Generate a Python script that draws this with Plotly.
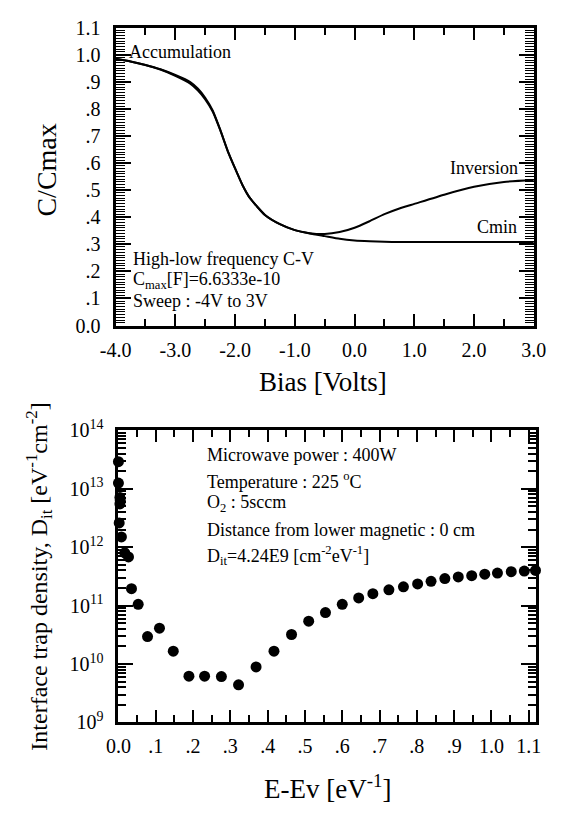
import plotly.graph_objects as go

# ---------------- data: top panel (C-V) ----------------
bias_v = [-4.0, -3.75, -3.5, -3.25, -3.0, -2.75, -2.625, -2.5, -2.375, -2.25, -2.125, -2.0, -1.875,
          -1.75, -1.5, -1.25, -1.0, -0.75, -0.5, -0.25, 0.0, 0.25, 0.5, 0.75, 1.0, 1.5, 2.0, 2.5, 3.0]
c_high_freq = [0.985, 0.975, 0.962, 0.945, 0.922, 0.893, 0.868, 0.835, 0.790, 0.722, 0.645, 0.580, 0.518,
               0.470, 0.408, 0.374, 0.352, 0.340, 0.330, 0.320, 0.314, 0.311, 0.309, 0.308, 0.308,
               0.308, 0.308, 0.308, 0.308]
c_low_freq = [0.985, 0.975, 0.962, 0.946, 0.925, 0.899, 0.875, 0.841, 0.794, 0.724, 0.646, 0.580, 0.518,
              0.470, 0.408, 0.374, 0.352, 0.341, 0.338, 0.345, 0.361, 0.385, 0.411, 0.432, 0.449,
              0.483, 0.512, 0.530, 0.537]
cv_xtick_vals = [-4, -3, -2, -1, 0, 1, 2, 3]
cv_xtick_text = ["-4.0", "-3.0", "-2.0", "-1.0", "0.0", "1.0", "2.0", "3.0"]
cv_ytick_vals = [0.0, 0.1, 0.2, 0.3, 0.4, 0.5, 0.6, 0.7, 0.8, 0.9, 1.0, 1.1]
cv_ytick_text = ["0.0", ".1", ".2", ".3", ".4", ".5", ".6", ".7", ".8", ".9", "1.0", "1.1"]

# ---------------- data: bottom panel (Dit) ----------------
e_minus_ev = [0.000, 0.000, 0.004, 0.005, 0.004, 0.002, 0.008, 0.017, 0.027, 0.035, 0.053,
              0.078, 0.110, 0.147, 0.189, 0.231, 0.276, 0.322, 0.369, 0.417, 0.464, 0.510,
              0.555, 0.600, 0.644, 0.682, 0.725, 0.764, 0.802, 0.838, 0.875, 0.911, 0.947,
              0.982, 1.016, 1.053, 1.088, 1.118]
dit_values = [2.9e13, 1.25e13, 7.1e12, 6.3e12, 5.5e12, 2.6e12, 1.5e12, 8.0e11, 6.8e11, 1.95e11, 1.05e11,
              2.95e10, 4.1e10, 1.66e10, 6.2e9, 6.2e9, 6.1e9, 4.4e9, 8.9e9, 1.66e10, 3.2e10, 5.4e10,
              7.6e10, 1.05e11, 1.35e11, 1.6e11, 1.86e11, 2.1e11, 2.35e11, 2.6e11, 2.9e11, 3.1e11, 3.25e11,
              3.45e11, 3.6e11, 3.8e11, 3.9e11, 4.0e11]
dit_xtick_vals = [0.0, 0.1, 0.2, 0.3, 0.4, 0.5, 0.6, 0.7, 0.8, 0.9, 1.0, 1.1]
dit_xtick_text = ["0.0", ".1", ".2", ".3", ".4", ".5", ".6", ".7", ".8", ".9", "1.0", "1.1"]
dit_ytick_vals = [1e9, 1e10, 1e11, 1e12, 1e13, 1e14]
dit_ytick_text = ["10<sup>9</sup>", "10<sup>10</sup>", "10<sup>11</sup>", "10<sup>12</sup>",
                  "10<sup>13</sup>", "10<sup>14</sup>"]
dit_minor_vals = [m * 10 ** d for d in range(9, 14) for m in range(2, 10)]

W, H = 562, 814
FONT = "Liberation Serif"


def px(x):
    return x / W


def py(y):
    return 1 - y / H


fig = go.Figure()
fig.add_trace(go.Scatter(x=bias_v, y=c_high_freq, mode="lines",
                         line=dict(color="black", width=2, shape="spline", smoothing=0.5),
                         xaxis="x", yaxis="y", showlegend=False))
fig.add_trace(go.Scatter(x=bias_v, y=c_low_freq, mode="lines",
                         line=dict(color="black", width=2, shape="spline", smoothing=0.5),
                         xaxis="x", yaxis="y", showlegend=False))
fig.add_trace(go.Scatter(x=e_minus_ev, y=dit_values, mode="markers", marker=dict(color="black", size=11),
                         xaxis="x2", yaxis="y2", showlegend=False, cliponaxis=False))

axis_common = dict(showgrid=False, zeroline=False, showline=True, linecolor="black", linewidth=3,
                   mirror="allticks", ticks="inside", tickcolor="black", tickwidth=1.5,
                   tickfont=dict(family=FONT, size=20, color="black"))

fig.update_layout(
    width=W, height=H, autosize=False,
    margin=dict(l=0, r=0, t=0, b=0),
    paper_bgcolor="white", plot_bgcolor="white",
    font=dict(family=FONT, color="black"),
    xaxis=dict(domain=[px(105), px(546)], anchor="y", range=[-4, 3], tickmode="array",
               tickvals=cv_xtick_vals, ticktext=cv_xtick_text, ticklen=12, ticklabelstandoff=4,
               minor=dict(dtick=0.5, ticklen=7, ticks="inside", tickcolor="black", tickwidth=1.5),
               **axis_common),
    yaxis=dict(domain=[py(322), py(15)], anchor="x", range=[0, 1.1], tickmode="array",
               tickvals=cv_ytick_vals, ticktext=cv_ytick_text, ticklen=15, ticklabelstandoff=8,
               minor=dict(dtick=0.01, ticklen=9, ticks="inside", tickcolor="black", tickwidth=1.2),
               **axis_common),
    xaxis2=dict(domain=[px(108), px(548)], anchor="y2", range=[0, 1.1186], tickmode="array",
                tickvals=dit_xtick_vals, ticktext=dit_xtick_text, ticklen=12, ticklabelstandoff=4,
                minor=dict(dtick=0.05, ticklen=7, ticks="inside", tickcolor="black", tickwidth=1.5),
                **axis_common),
    yaxis2=dict(domain=[py(731), py(430)], anchor="x2", type="log", range=[9, 14], tickmode="array",
                tickvals=dit_ytick_vals, ticktext=dit_ytick_text, ticklen=15, ticklabelstandoff=8,
                minor=dict(tickmode="array", tickvals=dit_minor_vals, ticklen=8, ticks="inside",
                           tickcolor="black", tickwidth=1.5),
                **axis_common),
)

ann = []


def add(text, x, y, xa="left", ya="middle", size=18, angle=0):
    ann.append(dict(text=text, x=px(x), y=py(y), xref="paper", yref="paper", xanchor=xa, yanchor=ya,
                    showarrow=False, textangle=angle, font=dict(family=FONT, size=size, color="black")))


# top panel annotations
add("Accumulation", 117, 40)
add("Inversion", 531, 160, xa="right")
add("Cmin", 530, 220, xa="right")
add("High-low frequency C-V", 121, 253)
add("C<sub>max</sub>[F]=6.6333e-10", 121, 276)
add("Sweep : -4V to 3V", 121, 297)
add("C/Cmax", 32, 162, xa="center", size=28, angle=-90)
add("Bias [Volts]", 324, 380, xa="center", size=27)

# bottom panel annotations
add("Microwave power : 400W", 199, 455)
add("Temperature : 225 <sup>o</sup>C", 199, 482)
add("O<sub>2</sub> : 5sccm", 199, 505)
add("Distance from lower magnetic : 0 cm", 199, 533)
add("D<sub>it</sub>=4.24E9 [cm<sup>-2</sup>eV<sup>-1</sup>]", 199, 559)
add("Interface trap density, D<sub>it</sub> [eV<sup>-1</sup>cm<sup>-2</sup>]", 24, 581, xa="center", size=24, angle=-90)
add("E-Ev [eV<sup>-1</sup>]", 328, 798, xa="center", size=27)

fig.update_layout(annotations=ann)
fig.write_html("out.html", config={"displayModeBar": False},
               post_script="document.body.style.margin='0';document.body.style.padding='0';")
